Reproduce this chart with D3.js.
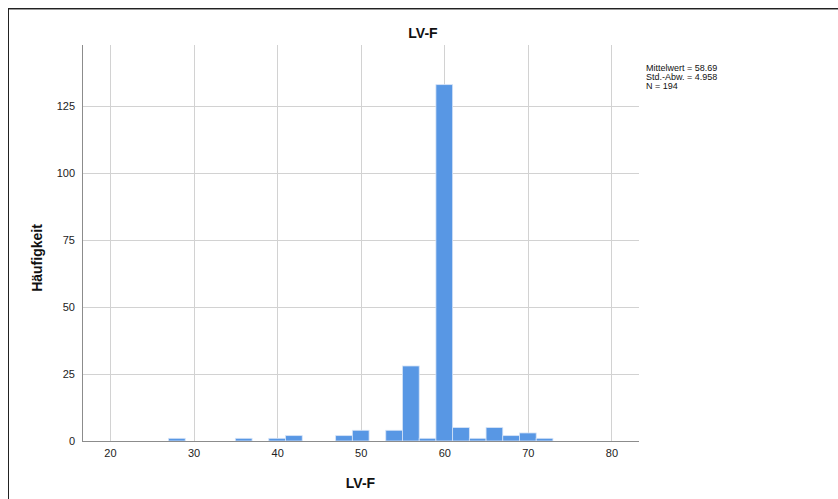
<!DOCTYPE html>
<html>
<head>
<meta charset="utf-8">
<script src="https://cdn.jsdelivr.net/npm/d3@7"></script>
<style>
  html, body { margin: 0; padding: 0; background: #fff; }
  svg { display: block; }
  text { font-family: "Liberation Sans", Arial, sans-serif; }
</style>
</head>
<body>
<svg id="chart" width="838" height="499"></svg>
<script>
// ---- data ----
const binCenters = [28, 36, 40, 42, 48, 50, 54, 56, 58, 60, 62, 64, 66, 68, 70, 72];
const counts     = [1, 1, 1, 2, 2, 4, 4, 28, 1, 133, 5, 1, 5, 2, 3, 1];
const binWidth = 2;
const xTicks = [20, 30, 40, 50, 60, 70, 80];
const yTicks = [0, 25, 50, 75, 100, 125];
const xRange = [16.65, 83.3];
const yRange = [0, 147.8];
const title = "LV-F";
const xLabel = "LV-F";
const yLabel = "Häufigkeit";
const statsLines = ["Mittelwert = 58.69", "Std.-Abw. = 4.958", "N = 194"];

// ---- layout ----
const svg = d3.select("#chart");
const plot = { left: 82, right: 639, top: 45, bottom: 441 };

const x = d3.scaleLinear().domain(xRange).range([plot.left, plot.right]);
const y = d3.scaleLinear().domain(yRange).range([plot.bottom, plot.top]);

// outer frame
svg.append("rect").attr("x", 8.5).attr("y", 8.5).attr("width", 840).attr("height", 500)
  .attr("fill", "none").attr("stroke", "#222").attr("stroke-width", 1);
svg.append("line").attr("x1", 9).attr("x2", 838).attr("y1", 9.5).attr("y2", 9.5)
  .attr("stroke", "#999").attr("stroke-width", 1);

// gridlines
const grid = svg.append("g");
grid.selectAll("line.v").data(xTicks).join("line")
  .attr("x1", d => Math.round(x(d)) + 0.5).attr("x2", d => Math.round(x(d)) + 0.5)
  .attr("y1", plot.top).attr("y2", plot.bottom)
  .attr("stroke", "#d2d2d2").attr("stroke-width", 1);
grid.selectAll("line.h").data(yTicks.filter(d => d > 0)).join("line")
  .attr("x1", plot.left).attr("x2", plot.right)
  .attr("y1", d => Math.round(y(d)) + 0.5).attr("y2", d => Math.round(y(d)) + 0.5)
  .attr("stroke", "#d2d2d2").attr("stroke-width", 1);

// bars
svg.append("g").selectAll("rect").data(binCenters).join("rect")
  .attr("x", d => x(d - binWidth / 2))
  .attr("width", d => x(d + binWidth / 2) - x(d - binWidth / 2))
  .attr("y", (d, i) => y(counts[i]))
  .attr("height", (d, i) => y(0) - y(counts[i]))
  .attr("fill", "#5897e4")
  .attr("stroke", "#d6e4f7").attr("stroke-width", 0.8);

// axes
const xAxis = d3.axisBottom(x).tickValues(xTicks).tickSize(0).tickPadding(8);
const yAxis = d3.axisLeft(y).tickValues(yTicks).tickSize(0).tickPadding(7);

const gx = svg.append("g").attr("transform", `translate(0,${plot.bottom})`).call(xAxis);
gx.select(".domain").attr("stroke", "#8c8c8c").attr("d", `M${plot.left},0.5H${plot.right}`);
gx.selectAll("text").attr("font-size", 11).attr("fill", "#222")
  .attr("font-family", "'Liberation Sans', Arial, sans-serif");

const gy = svg.append("g").attr("transform", `translate(${plot.left},0)`).call(yAxis);
gy.select(".domain").attr("stroke", "#8c8c8c").attr("d", `M0.5,${plot.top}V${plot.bottom}`);
gy.selectAll("text").attr("font-size", 11).attr("fill", "#222")
  .attr("font-family", "'Liberation Sans', Arial, sans-serif");

// title
svg.append("text").attr("x", 423).attr("y", 38).attr("text-anchor", "middle")
  .attr("font-size", 14).attr("font-weight", "bold").attr("fill", "#111").text(title);

// axis titles
svg.append("text").attr("x", (plot.left + plot.right) / 2).attr("y", 488)
  .attr("text-anchor", "middle").attr("font-size", 14).attr("font-weight", "bold")
  .attr("fill", "#111").text(xLabel);
svg.append("text").attr("transform", "translate(42,258) rotate(-90)")
  .attr("text-anchor", "middle").attr("font-size", 14).attr("font-weight", "bold")
  .attr("fill", "#111").text(yLabel);

// stats box
svg.append("g").selectAll("text").data(statsLines).join("text")
  .attr("x", 646).attr("y", (d, i) => 71 + i * 9)
  .attr("font-size", 9).attr("fill", "#111").text(d => d);
</script>
</body>
</html>
